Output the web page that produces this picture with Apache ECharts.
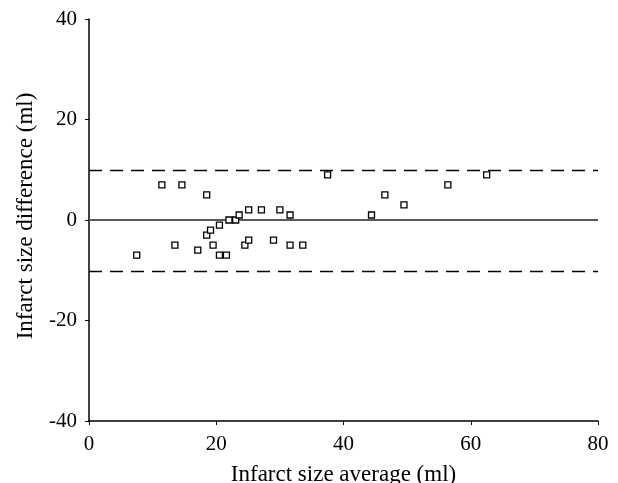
<!DOCTYPE html>
<html>
<head>
<meta charset="utf-8">
<script src="https://cdn.jsdelivr.net/npm/echarts@6/dist/echarts.min.js"></script>
<style>
html,body{margin:0;padding:0;background:#fff;overflow:hidden;}
#c{width:618px;height:483px;}
</style>
</head>
<body>
<div id="c"></div>
<script>
// Data (Bland-Altman style plot)
var avgValues  = [11.45, 14.6, 18.5, 37.5, 7.5, 13.5, 17.1, 18.5, 19.1, 19.5, 20.5, 20.5, 21.6, 22.0, 23.05, 23.6, 24.5, 25.1, 25.1, 27.1, 29.0, 30.0, 31.6, 31.6, 33.6, 44.4, 46.5, 49.5, 56.4, 62.5];
var diffValues = [7, 7, 5, 9, -7, -5, -6, -3, -2, -5, -1, -7, -7, 0, 0, 1, -5, -4, 2, 2, -4, 2, 1, -5, -5, 1, 5, 3, 7, 9];
var meanLine = 0;
var limitLines = [10, -10.2];
var xTicks = [0, 20, 40, 60, 80];
var yTicks = [-40, -20, 0, 20, 40];

var points = avgValues.map(function (x, i) { return [x, diffValues[i]]; });
var font = 'Liberation Serif, Times New Roman, serif';

var chart = echarts.init(document.getElementById('c'));
chart.setOption({
  animation: false,
  backgroundColor: '#fff',
  grid: { left: 89, right: 20, top: 19, bottom: 62, containLabel: false, outerBoundsMode: 'none' },
  xAxis: {
    type: 'value', min: xTicks[0], max: xTicks[xTicks.length - 1], interval: 20,
    name: 'Infarct size average (ml)', nameLocation: 'middle', nameGap: 42,
    nameTextStyle: { fontFamily: font, fontSize: 23, color: '#000' },
    axisLine: { show: true, onZero: false, lineStyle: { color: '#000', width: 1.5 } },
    axisTick: { show: true, inside: false, length: 4, lineStyle: { color: '#000', width: 1 } },
    axisLabel: { fontFamily: font, fontSize: 21, color: '#000', margin: 13 },
    splitLine: { show: false }
  },
  yAxis: {
    type: 'value', min: yTicks[0], max: yTicks[yTicks.length - 1], interval: 20,
    name: 'Infarct size difference (ml)', nameLocation: 'middle', nameGap: 52,
    nameTextStyle: { fontFamily: font, fontSize: 23, color: '#000', padding: [0, 0, 0, 8] },
    axisLine: { show: true, onZero: false, lineStyle: { color: '#000', width: 1.5 } },
    axisTick: { show: true, inside: false, length: 4, lineStyle: { color: '#000', width: 1 } },
    axisLabel: { fontFamily: font, fontSize: 21, color: '#000', margin: 12 },
    splitLine: { show: false }
  },
  series: [{
    type: 'scatter',
    data: points,
    symbol: 'rect',
    symbolSize: 6,
    itemStyle: { color: '#fff', borderColor: '#000', borderWidth: 1.3, opacity: 1 },
    markLine: {
      silent: true,
      symbol: ['none', 'none'],
      label: { show: false },
      z: 1,
      data: [
        { yAxis: meanLine, lineStyle: { color: '#5a5a5a', width: 2, type: 'solid' } },
        { yAxis: limitLines[0], lineStyle: { color: '#000', width: 1.3, type: [13, 8] } },
        { yAxis: limitLines[1], lineStyle: { color: '#000', width: 1.3, type: [13, 8] } }
      ]
    },
    z: 3
  }]
});
</script>
</body>
</html>
